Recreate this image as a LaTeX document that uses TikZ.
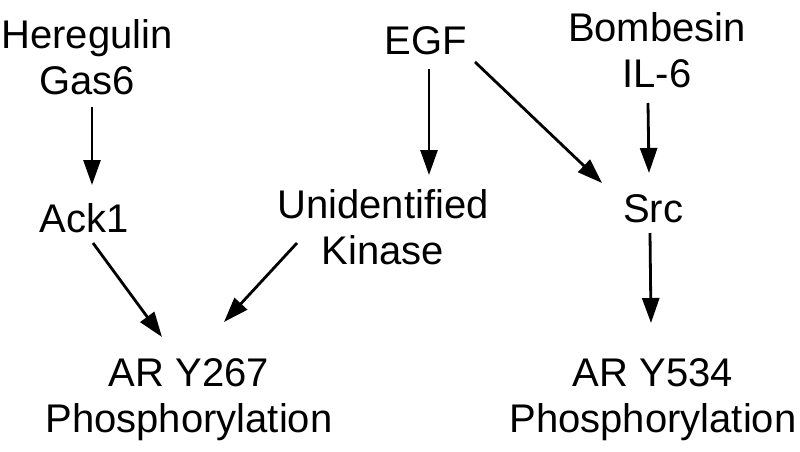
\documentclass[tikz,border=0pt]{standalone}
\usepackage{fontspec}
\setmainfont{Liberation Sans}
\usetikzlibrary{arrows.meta}
\begin{document}
\begin{tikzpicture}[x=1pt,y=-1pt,
  lbl/.style={anchor=base,align=center,inner sep=0pt,font=\fontsize{40}{46}\selectfont},
  arr/.style={line width=2.8pt,-{Triangle[length=25pt,width=17pt]}}]
\useasboundingbox (0,0) rectangle (800,452);
\node[lbl] (her) at (87,94) {Heregulin\\Gas6};
\node[lbl] (ack) at (84,232) {Ack1};
\node[lbl] (egf) at (426,55) {EGF};
\node[lbl] (uk) at (383,264) {Unidentified\\Kinase};
\node[lbl] (bomb) at (657,87) {Bombesin\\IL-6};
\node[lbl] (src) at (653,222) {Src};
\node[lbl] (ar1) at (189,432) {AR Y267\\Phosphorylation};
\node[lbl] (ar2) at (653,432) {AR Y534\\Phosphorylation};
\draw[arr] ([shift={(5,13)}]her.base) -- ([shift={(8,-47)}]ack.base);
\draw[arr] ([shift={(9,11)}]ack.base) -- ([shift={(-27,-95)}]ar1.base);
\draw[arr] ([shift={(-86,-21)}]uk.base) -- ([shift={(35,-110)}]ar1.base);
\draw[arr] ([shift={(3,14)}]egf.base) -- ([shift={(46,-89)}]uk.base);
\draw[arr] ([shift={(49,7)}]egf.base) -- ([shift={(-51,-39)}]src.base);
\draw[arr] ([shift={(-9,16)}]bomb.base) -- ([shift={(-4,-49)}]src.base);
\draw[arr] ([shift={(-3,11)}]src.base) -- ([shift={(-2,-109)}]ar2.base);
\end{tikzpicture}
\end{document}
